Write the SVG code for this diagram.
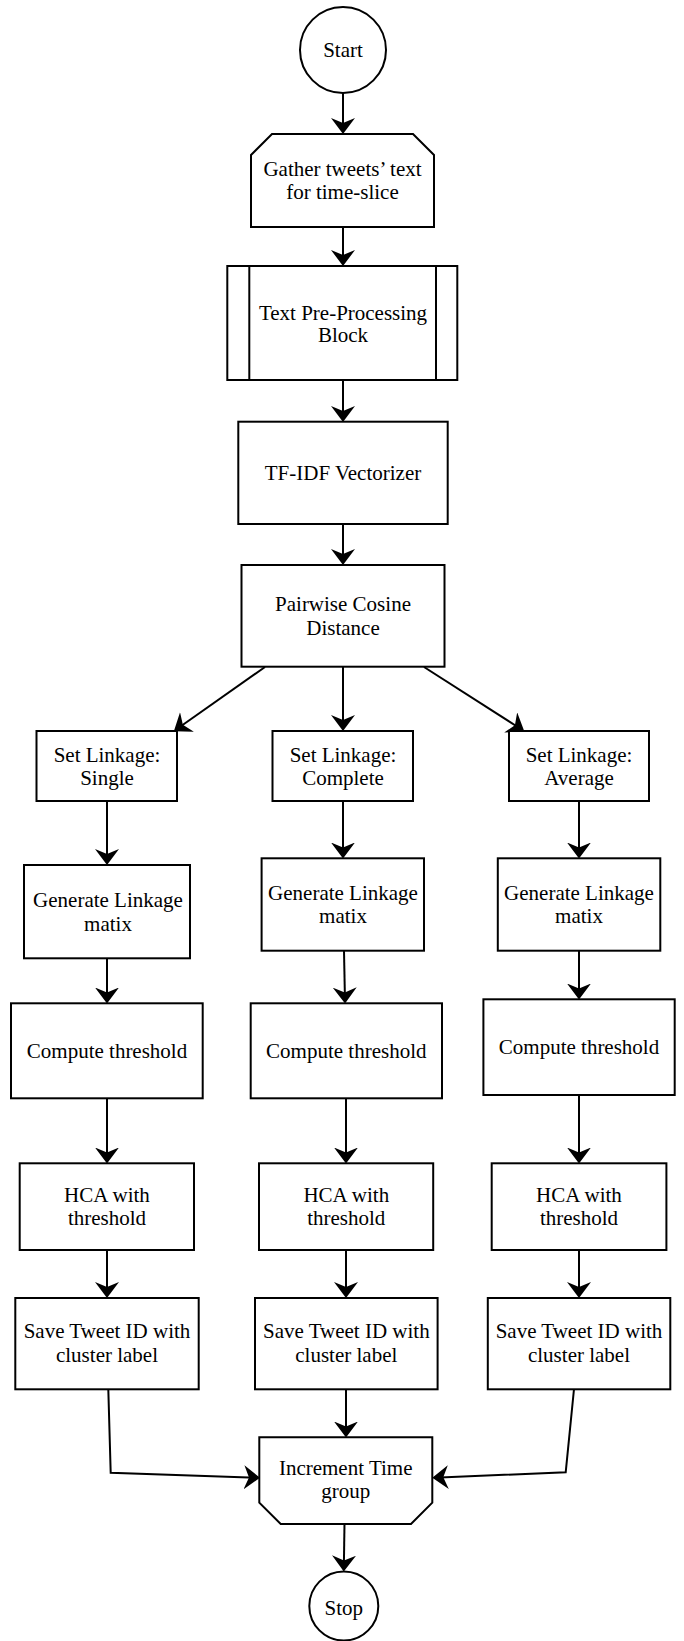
<svg xmlns="http://www.w3.org/2000/svg" width="684" height="1641" viewBox="0 0 684 1641">
<defs>
<style>
.n{fill:#fff;stroke:#000;stroke-width:2}
.t{font-family:"Liberation Serif","Times New Roman",serif;font-size:21px;fill:#000;text-anchor:middle}
.c{fill:none;stroke:#000;stroke-width:2;marker-end:url(#ah)}
</style>
<marker id="ah" markerUnits="userSpaceOnUse" viewBox="0 0 16 24" markerWidth="16" markerHeight="24" refX="14" refY="12" orient="auto">
<path d="M16,12 L0,0 L5,12 L0,24 Z" fill="#000"/>
</marker>
</defs>
<rect width="684" height="1641" fill="#fff"/>
<g id="connectors">
<line class="c" x1="343" y1="93" x2="343" y2="132"/>
<line class="c" x1="343" y1="227" x2="343" y2="264"/>
<line class="c" x1="343" y1="380" x2="343" y2="420"/>
<line class="c" x1="343" y1="524" x2="343" y2="563"/>
<line class="c" x1="265" y1="667" x2="175.5" y2="730"/>
<line class="c" x1="343" y1="667" x2="343" y2="729"/>
<line class="c" x1="424" y1="667" x2="522.5" y2="730"/>
<line class="c" x1="107" y1="801" x2="107" y2="863"/>
<line class="c" x1="343" y1="801" x2="343" y2="856.5"/>
<line class="c" x1="579" y1="801" x2="579" y2="856.5"/>
<line class="c" x1="107" y1="958" x2="107" y2="1001.5"/>
<line class="c" x1="344" y1="951" x2="345" y2="1001.5"/>
<line class="c" x1="579" y1="951" x2="579" y2="997.5"/>
<line class="c" x1="107" y1="1098" x2="107" y2="1161.5"/>
<line class="c" x1="346" y1="1098" x2="346" y2="1161.5"/>
<line class="c" x1="579" y1="1095" x2="579" y2="1161.5"/>
<line class="c" x1="107" y1="1250" x2="107" y2="1296"/>
<line class="c" x1="346" y1="1250" x2="346" y2="1296"/>
<line class="c" x1="579" y1="1250" x2="579" y2="1296"/>
<line class="c" x1="346" y1="1389" x2="346" y2="1435.5"/>
<polyline class="c" points="108.3,1389 110.7,1472.7 258,1477.7"/>
<polyline class="c" points="574,1389 565.7,1472.3 434.3,1477.7"/>
<line class="c" x1="344.5" y1="1524" x2="343.8" y2="1569.5"/>
</g>
<g id="start">
<circle class="n" cx="343" cy="50" r="43"/>
<text class="t" x="343" y="57">Start</text>
</g>
<g id="gather">
<polygon class="n" points="272,134 413,134 434,155 434,227 251,227 251,155"/>
<text class="t" x="342.5" y="175.5">Gather tweets’ text</text>
<text class="t" x="342.5" y="198.5">for time-slice</text>
</g>
<g id="preprocess">
<rect class="n" x="227.3" y="266" width="230" height="114"/>
<line x1="249.3" y1="266" x2="249.3" y2="380" stroke="#000" stroke-width="2"/>
<line x1="436" y1="266" x2="436" y2="380" stroke="#000" stroke-width="2"/>
<text class="t" x="343" y="320">Text Pre-Processing</text>
<text class="t" x="343" y="342">Block</text>
</g>
<g id="tfidf">
<rect class="n" x="238.3" y="421.7" width="209.4" height="102.3"/>
<text class="t" x="343" y="480">TF-IDF Vectorizer</text>
</g>
<g id="pairwise">
<rect class="n" x="241.5" y="565" width="203" height="101.7"/>
<text class="t" x="343" y="611">Pairwise Cosine</text>
<text class="t" x="343" y="635">Distance</text>
</g>
<g id="link-single">
<rect class="n" x="36.5" y="731" width="140.5" height="70"/>
<text class="t" x="107" y="762">Set Linkage:</text>
<text class="t" x="107" y="785">Single</text>
</g>
<g id="link-complete">
<rect class="n" x="272.5" y="731" width="140.5" height="70"/>
<text class="t" x="343" y="762">Set Linkage:</text>
<text class="t" x="343" y="785">Complete</text>
</g>
<g id="link-average">
<rect class="n" x="509" y="731" width="140" height="70"/>
<text class="t" x="579" y="762">Set Linkage:</text>
<text class="t" x="579" y="785">Average</text>
</g>
<g id="gen-single">
<rect class="n" x="24" y="865" width="166" height="93.3"/>
<text class="t" x="108" y="906.7">Generate Linkage</text>
<text class="t" x="108" y="930.7">matix</text>
</g>
<g id="gen-complete">
<rect class="n" x="261.6" y="858.3" width="162.4" height="92.4"/>
<text class="t" x="343" y="900">Generate Linkage</text>
<text class="t" x="343" y="923.3">matix</text>
</g>
<g id="gen-average">
<rect class="n" x="497.8" y="858.3" width="162.5" height="92.4"/>
<text class="t" x="579" y="900">Generate Linkage</text>
<text class="t" x="579" y="923.3">matix</text>
</g>
<g id="thr-single">
<rect class="n" x="11" y="1003.3" width="191.7" height="95"/>
<text class="t" x="107" y="1058">Compute threshold</text>
</g>
<g id="thr-complete">
<rect class="n" x="250.7" y="1003.3" width="191.3" height="95"/>
<text class="t" x="346.3" y="1058">Compute threshold</text>
</g>
<g id="thr-average">
<rect class="n" x="483.4" y="999.3" width="191.3" height="95.7"/>
<text class="t" x="579" y="1053.5">Compute threshold</text>
</g>
<g id="hca-single">
<rect class="n" x="19.7" y="1163.3" width="174.3" height="86.7"/>
<text class="t" x="107" y="1201.7">HCA with</text>
<text class="t" x="107" y="1225">threshold</text>
</g>
<g id="hca-complete">
<rect class="n" x="259" y="1163.3" width="174.2" height="86.7"/>
<text class="t" x="346.3" y="1201.7">HCA with</text>
<text class="t" x="346.3" y="1225">threshold</text>
</g>
<g id="hca-average">
<rect class="n" x="491.7" y="1163.3" width="174.7" height="86.7"/>
<text class="t" x="579" y="1201.7">HCA with</text>
<text class="t" x="579" y="1225">threshold</text>
</g>
<g id="save-single">
<rect class="n" x="15.3" y="1298" width="183.4" height="91.3"/>
<text class="t" x="107" y="1338.3">Save Tweet ID with</text>
<text class="t" x="107" y="1361.7">cluster label</text>
</g>
<g id="save-complete">
<rect class="n" x="255" y="1298" width="182.6" height="91.3"/>
<text class="t" x="346.3" y="1338.3">Save Tweet ID with</text>
<text class="t" x="346.3" y="1361.7">cluster label</text>
</g>
<g id="save-average">
<rect class="n" x="487.8" y="1298" width="182.5" height="91.3"/>
<text class="t" x="579" y="1338.3">Save Tweet ID with</text>
<text class="t" x="579" y="1361.7">cluster label</text>
</g>
<g id="increment">
<polygon class="n" points="259.3,1437.3 432.3,1437.3 432.3,1502.7 411,1524 280.7,1524 259.3,1502.7"/>
<text class="t" x="345.7" y="1474.5">Increment Time</text>
<text class="t" x="345.7" y="1498">group</text>
</g>
<g id="stop">
<circle class="n" cx="343.8" cy="1606" r="34.5"/>
<text class="t" x="343.8" y="1615">Stop</text>
</g>
</svg>
